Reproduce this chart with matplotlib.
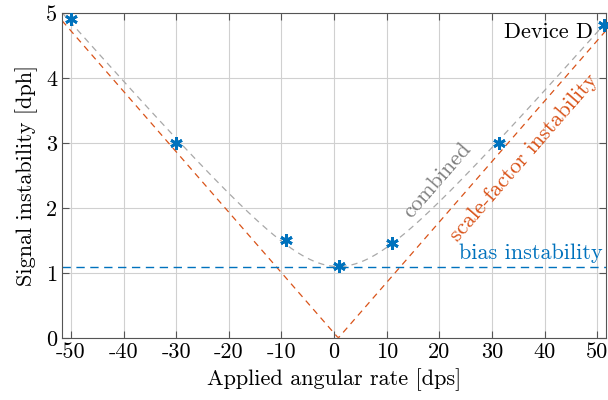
import numpy as np
import matplotlib.pyplot as plt

plt.rcParams['font.family'] = 'cmr10'
plt.rcParams['axes.unicode_minus'] = False
plt.rcParams['mathtext.fontset'] = 'cm'

# measured points
rate = [-50, -30, -9.2, 0.9, 11.0, 31.3, 51.3]
instab = [4.91, 3.0, 1.51, 1.11, 1.46, 3.0, 4.82]

# model
bias = 1.1
sf_slope = 0.093
sf_center = 0.8

x_ticks = [-50, -40, -30, -20, -10, 0, 10, 20, 30, 40, 50]
y_ticks = [0, 1, 2, 3, 4, 5]

blue = '#0072BD'
orange = '#D95319'
gray = '#A8A8A8'
fs = 16

fig = plt.figure(figsize=(6.08, 4), dpi=100)
ax = fig.add_axes([0.102, 0.155, 0.895, 0.8125])

xx = np.linspace(-51.7, 51.7, 400)
sf = sf_slope * np.abs(xx - sf_center)
comb = np.sqrt(bias ** 2 + sf ** 2)

ax.plot(xx, sf, linestyle=(0, (5, 4)), color=orange, lw=0.9)
ax.plot(xx, comb, linestyle=(0, (5, 4)), color=gray, lw=0.9)
ax.axhline(bias, linestyle=(0, (6, 4)), color=blue, lw=1.0)
ax.plot(rate, instab, linestyle='none', marker=(6, 2, 0), markersize=9,
        markeredgewidth=2.0, color=blue, clip_on=False, zorder=5)

ax.text(19.6, 2.43, 'combined', color='#808080', rotation=49, fontsize=fs,
        ha='center', va='center', rotation_mode='anchor')
ax.text(36.0, 2.78, 'scale-factor instability', color=orange, rotation=49,
        fontsize=fs, ha='center', va='center', rotation_mode='anchor')
ax.text(37.3, 1.16, 'bias instability', color=blue, fontsize=fs,
        ha='center', va='bottom')
ax.text(49.2, 4.71, 'Device D', color='black', fontsize=fs, ha='right', va='center')

ax.set_xlim(-51.7, 51.7)
ax.set_ylim(0, 5)
ax.set_xticks(x_ticks)
ax.set_yticks(y_ticks)
ax.set_xlabel('Applied angular rate [dps]', fontsize=fs, labelpad=4)
ax.set_ylabel('Signal instability [dph]', fontsize=fs, labelpad=6)
ax.grid(True, color='#D0D0D0', lw=0.8)
ax.tick_params(direction='in', top=True, right=True, labelsize=fs,
               color='#555555', length=5)
for s in ax.spines.values():
    s.set_color('#555555')

fig.savefig('out.png', dpi=100)
